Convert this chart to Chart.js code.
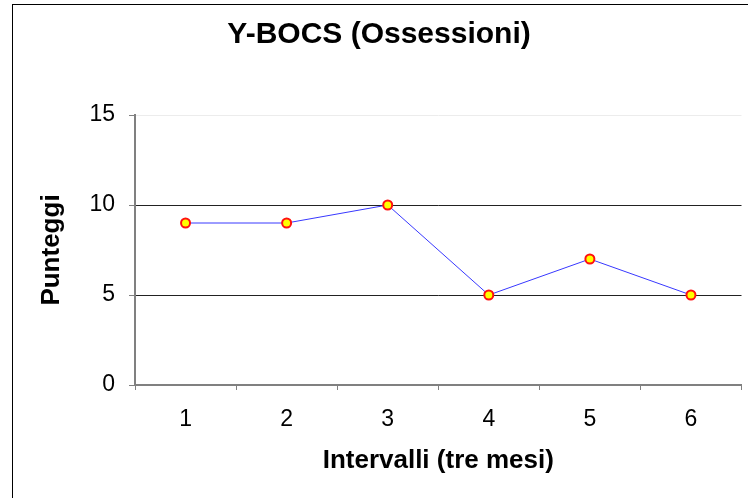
<!DOCTYPE html>
<html>
<head>
<meta charset="utf-8">
<script src="https://cdn.jsdelivr.net/npm/chart.js@4"></script>
<style>
  html, body { margin: 0; padding: 0; background: #fff; overflow: hidden; }
  #frame { position: absolute; left: 12px; top: 4px; width: 800px; height: 600px; border: 1px solid #000; }
  #wrap { position: absolute; left: 0; top: 0; width: 748px; height: 498px; }
</style>
</head>
<body>
<div id="frame"></div>
<div id="wrap"><canvas id="chart"></canvas></div>
<script>
// Y-BOCS ossessioni per intervallo
var intervalli = ['1', '2', '3', '4', '5', '6'];
var punteggi = [9, 9, 10, 5, 7, 5];
var yTicks = [0, 5, 10, 15];

window.addEventListener('DOMContentLoaded', function() {
    Chart.defaults.font.family = '"Liberation Sans", Arial, sans-serif';
    Chart.defaults.color = '#000';

    const ctx = document.getElementById('chart').getContext('2d');
    new Chart(ctx, {
        type: 'line',
        data: {
            labels: intervalli,
            datasets: [{
                label: 'Y-BOCS (Ossessioni)',
                data: punteggi,
                borderColor: '#3838ff',
                borderWidth: 1,
                tension: 0,
                pointRadius: 4.5,
                pointBorderWidth: 2,
                pointBackgroundColor: '#ffff00',
                pointBorderColor: '#ff1010'
            }]
        },
        options: {
            responsive: true,
            maintainAspectRatio: false,
            animation: false,
            layout: { padding: { left: 13, right: 3, top: 5, bottom: 0 } },
            plugins: {
                legend: { display: false },
                tooltip: { enabled: false },
                title: {
                    display: true,
                    text: 'Y-BOCS (Ossessioni)',
                    color: '#000',
                    font: { size: 30, weight: 'bold' },
                    padding: { top: 12, bottom: 62 }
                }
            },
            scales: {
                x: {
                    offset: true,
                    grid: {
                        offset: true,
                        drawOnChartArea: false,
                        tickLength: 5,
                        tickColor: '#808080'
                    },
                    border: { color: '#808080', width: 2 },
                    ticks: { font: { size: 23 }, padding: 16, color: '#000' },
                    title: {
                        display: true,
                        text: 'Intervalli (tre mesi)',
                        font: { size: 26, weight: 'bold' },
                        padding: { top: 0, bottom: 22 }
                    },
                    afterFit: function(scale) { scale.height = 113; }
                },
                y: {
                    min: 0,
                    max: 15,
                    afterBuildTicks: function(scale) {
                        scale.ticks = yTicks.map(function(v) { return { value: v }; });
                    },
                    grid: {
                        color: function(c) {
                            if (c.tick.value === 15) return '#ececec';
                            if (c.tick.value === 0) return '#808080';
                            return '#222';
                        },
                        tickLength: 6,
                        tickColor: '#808080'
                    },
                    border: { color: '#808080', width: 2 },
                    ticks: { font: { size: 23 }, padding: 14, color: '#000' },
                    title: {
                        display: true,
                        text: 'Punteggi',
                        font: { size: 26, weight: 'bold' },
                        padding: { top: 23, bottom: 0 }
                    },
                    afterFit: function(scale) { scale.width = 122; }
                }
            }
        }
    });
});
</script>
</body>
</html>
